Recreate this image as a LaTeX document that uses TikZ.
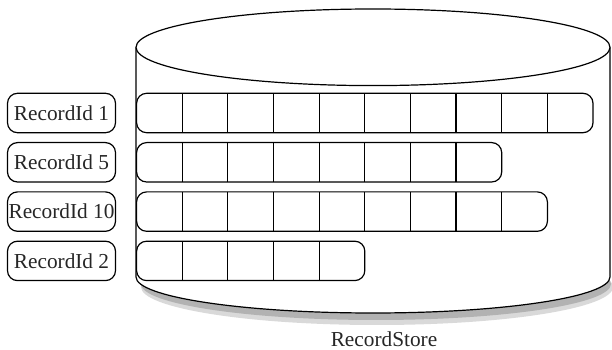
\documentclass[tikz,border=0pt]{standalone}
\usepackage{fontspec}
\setmainfont{Liberation Serif}
\usetikzlibrary{calc}
\begin{document}
\begin{tikzpicture}[x=1pt,y=1pt,
  txt/.style={font=\fontsize{21.3}{25}\selectfont, text=black!85},
  lbl/.style={txt, draw, line width=1.2pt, rounded corners=10pt, minimum width=108pt, minimum height=39.4pt, inner sep=0pt, outer sep=0pt},
  rowbox/.style={draw, line width=1.2pt, rounded corners=10pt, minimum height=39.4pt, inner sep=0pt, outer sep=0pt, anchor=west},
  divider/.style={line width=1.2pt},
  outline/.style={line width=1.2pt}]
\useasboundingbox (0,0) rectangle (612,350);
% shadow
\fill[gray!30] (377,63) ellipse [x radius=236, y radius=38];
\fill[gray!60] (376,66) ellipse [x radius=235, y radius=36];
% cylinder body
\fill[white] (136,302.7) -- (136,73) arc[start angle=180, end angle=360, x radius=237, y radius=36] -- (610,302.7) -- cycle;
\draw[outline] (136,302.7) -- (136,73) arc[start angle=180, end angle=360, x radius=237, y radius=36] -- (610,302.7);
\draw[outline, fill=white] (373,302.7) ellipse [x radius=237, y radius=38.3];
% record rows
\node[rowbox, minimum width=456.4pt] (r1) at (136.6,237) {};
\node[rowbox, minimum width=365.1pt] (r2) at (136.6,187.7) {};
\node[rowbox, minimum width=410.8pt] (r3) at (136.6,138.4) {};
\node[rowbox, minimum width=228.2pt] (r4) at (136.6,89.1) {};
\foreach \r/\n in {r1/9, r2/7, r3/8, r4/4}{
  \foreach \k in {1,...,\n}{
    \draw[divider] ($(\r.north west)+(\k*45.64,0)$) -- ($(\r.south west)+(\k*45.64,0)$);
  }
}
% labels
\node[lbl] (l1) at (61.5,237) {RecordId 1};
\node[lbl] (l2) at (61.5,187.7) {RecordId 5};
\node[lbl] (l3) at (61.5,138.4) {RecordId 10};
\node[lbl] (l4) at (61.5,89.1) {RecordId 2};
% caption
\node[txt] (store) at (384,11) {RecordStore};
\end{tikzpicture}
\end{document}
